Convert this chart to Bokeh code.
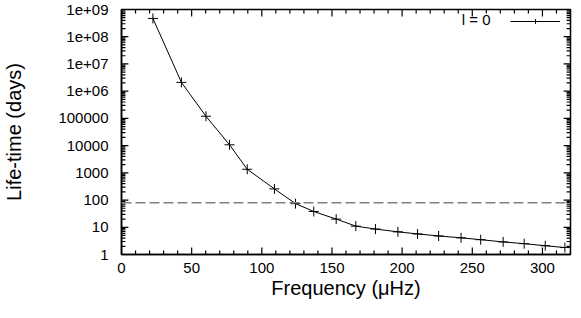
from bokeh.plotting import figure
from bokeh.models import (Range1d, SingleIntervalTicker, LogTicker, Span, Legend, LegendItem, Label)
from bokeh.core.properties import value
from bokeh.embed import file_html
from bokeh.resources import INLINE

# data
freq = [22.4, 42.7, 60.2, 77, 89.6, 109, 124, 137, 153, 167, 181, 197, 211, 226, 242, 256, 272, 287, 302, 316]
life = [4.7e8, 2.1e6, 1.2e5, 1.07e4, 1350, 257, 74, 38, 20, 11, 8.6, 6.8, 5.7, 4.8, 4.1, 3.5, 2.9, 2.5, 2.1, 1.8]
threshold = 80
x_major = [0, 50, 100, 150, 200, 250, 300]
x_minor = [v for v in range(10, 321, 10) if v % 50 != 0]
y_ticks = [1, 10, 100, 1000, 10000, 100000, 1e6, 1e7, 1e8, 1e9]
y_labels = ["1", "10", "100", "1000", "10000", "100000", "1e+06", "1e+07", "1e+08", "1e+09"]
y_minor = [k * 10 ** d for d in range(9) for k in range(2, 10)]
legend_label = "l = 0"
X0, X1, Y0, Y1 = 0, 320, 1, 1e9

FONT = "Liberation Sans"
FRAME_W, FRAME_H = 457, 245   # approximate frame size in pixels

p = figure(width=572, height=302, output_backend="svg", toolbar_location=None,
           y_axis_type="log", x_range=Range1d(X0, X1), y_range=Range1d(Y0, Y1),
           min_border_left=113, min_border_right=2, min_border_top=9, min_border_bottom=48)
p.grid.visible = False
p.outline_line_color = "black"
p.outline_line_width = 1.5
p.background_fill_color = "white"
p.border_fill_color = "white"

for ax in (p.xaxis[0], p.yaxis[0]):
    ax.axis_line_color = "black"
    ax.axis_line_width = 1.5
    ax.major_tick_in = 0
    ax.major_tick_out = 0
    ax.minor_tick_in = 0
    ax.minor_tick_out = 0
    ax.major_label_text_font = FONT
    ax.major_label_text_font_size = "15px"
    ax.major_label_text_color = "black"
    ax.axis_label_text_font = FONT
    ax.axis_label_text_font_size = "20px"
    ax.axis_label_text_font_style = "normal"
    ax.axis_label_text_color = "black"

xa = p.xaxis[0]
xa.ticker = SingleIntervalTicker(interval=50, num_minor_ticks=5)
xa.axis_label = "Frequency (μHz)"
xa.major_label_standoff = 8
xa.axis_label_standoff = 1

ya = p.yaxis[0]
ya.ticker = LogTicker(num_minor_ticks=9)
ya.major_label_overrides = {t: l for t, l in zip(y_ticks, y_labels)}
ya.axis_label = "Life-time (days)"
ya.major_label_standoff = 13
ya.axis_label_standoff = 30

# inward tick marks on all four sides, lengths converted from pixels to data units
px_x = (X1 - X0) / FRAME_W
dec_px = 9.0 / FRAME_H
for xs, L in ((x_major, 7), (x_minor, 4)):
    f = 10 ** (L * dec_px)
    p.segment(x0=xs, y0=[Y0] * len(xs), x1=xs, y1=[Y0 * f] * len(xs), line_color="black", line_width=1.2)
    p.segment(x0=xs, y0=[Y1] * len(xs), x1=xs, y1=[Y1 / f] * len(xs), line_color="black", line_width=1.2)
for ys, L in ((y_ticks, 7), (y_minor, 4)):
    d = L * px_x
    p.segment(x0=[X0] * len(ys), y0=ys, x1=[X0 + d] * len(ys), y1=ys, line_color="black", line_width=1.2)
    p.segment(x0=[X1] * len(ys), y0=ys, x1=[X1 - d] * len(ys), y1=ys, line_color="black", line_width=1.2)

p.add_layout(Span(location=threshold, dimension="width", line_color="#808080",
                  line_width=1.5, line_dash="10 4"))

lr = p.line(freq, life, line_color="black", line_width=1)
sr = p.scatter(freq, life, marker="cross", size=10, line_color="black", line_width=1)

leg = Legend(items=[LegendItem(label=value(" "), renderers=[lr, sr])],
             location=(389, FRAME_H - 18), glyph_width=50, glyph_height=12, label_standoff=0,
             padding=0, margin=0, spacing=0, border_line_color=None,
             background_fill_alpha=0, label_text_font=FONT, label_text_font_size="15px")
p.add_layout(leg)
p.add_layout(Label(x=369, y=FRAME_H - 10, x_units="screen", y_units="screen", text=legend_label,
                   text_align="right", text_baseline="middle", text_font=FONT,
                   text_font_size="15px", text_color="black"))

open("out.html", "w").write(file_html(p, INLINE))
